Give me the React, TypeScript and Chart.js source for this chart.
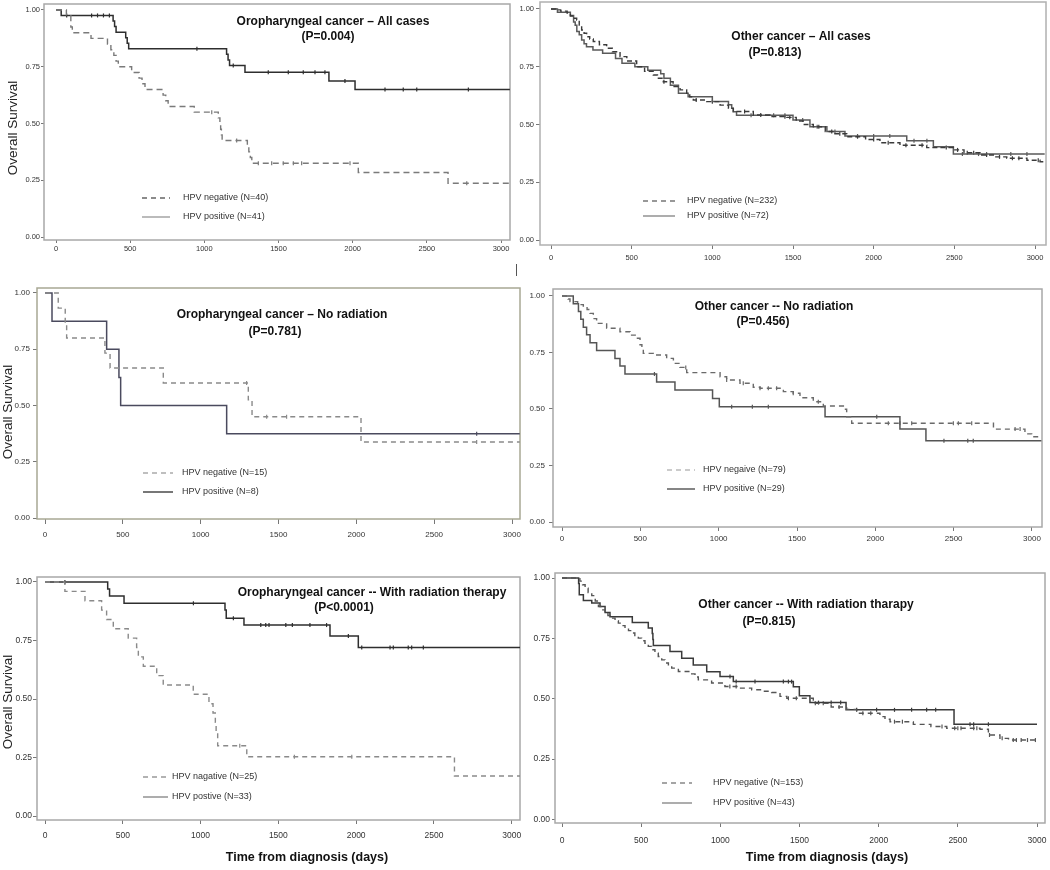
import React, { useEffect, useRef } from "react";
import { Chart, registerables } from "chart.js";

Chart.register(...registerables);

type Pt = [number, number];

// ---------- shared axis ticks ----------
const xTicks = [0, 500, 1000, 1500, 2000, 2500, 3000];
const yTicks = [0, 0.25, 0.5, 0.75, 1];

// ---------- texts ----------
const panelTitles = [
  "Oropharyngeal cancer – All cases",
  "Other cancer – All cases",
  "Oropharyngeal cancer – No radiation",
  "Other cancer -- No radiation",
  "Oropharyngeal cancer -- With radiation therapy",
  "Other cancer -- With radiation tharapy",
];
const pValues = ["(P=0.004)", "(P=0.813)", "(P=0.781)", "(P=0.456)", "(P<0.0001)", "(P=0.815)"];
const negLabels = [
  "HPV negative (N=40)",
  "HPV negative (N=232)",
  "HPV negative (N=15)",
  "HPV negaive (N=79)",
  "HPV nagative (N=25)",
  "HPV negative (N=153)",
];
const posLabels = [
  "HPV positive (N=41)",
  "HPV positive (N=72)",
  "HPV positive (N=8)",
  "HPV positive (N=29)",
  "HPV postive (N=33)",
  "HPV positive (N=43)",
];
const yAxisTitle = "Overall Survival";
const xAxisTitle = "Time from diagnosis (days)";

// ---------- survival data: [days, survival] ----------
// Oropharyngeal – all cases
const oroAllNeg: Pt[] = [
  [0, 1], [70, 0.975], [100, 0.925], [110, 0.9], [236, 0.875], [347, 0.85], [370, 0.825], [390, 0.8],
  [405, 0.775], [420, 0.75], [510, 0.725], [560, 0.7], [580, 0.675], [600, 0.65], [722, 0.625],
  [740, 0.6], [756, 0.575], [932, 0.55], [1094, 0.525], [1105, 0.5], [1110, 0.475], [1115, 0.45],
  [1120, 0.425], [1290, 0.4], [1300, 0.375], [1310, 0.35], [1320, 0.325], [2038, 0.284], [2643, 0.237],
  [3060, 0.237],
];
const oroAllPos: Pt[] = [
  [0, 1], [35, 0.976], [385, 0.951], [395, 0.927], [405, 0.902], [470, 0.878], [480, 0.854], [490, 0.829],
  [1150, 0.805], [1160, 0.78], [1170, 0.755], [1274, 0.726], [1840, 0.687], [2016, 0.65], [3060, 0.65],
];
const oroAllNegCens = [1050, 1218, 1364, 1454, 1532, 1600, 1656, 1982, 2769];
const oroAllPosCens = [72, 240, 280, 320, 360, 950, 1195, 1431, 1566, 1667, 1746, 1813, 1948, 2218, 2341, 2432, 2780];

// Other cancer – all cases
const othAllNeg: Pt[] = [
  [0, 1], [30, 0.996], [60, 0.991], [100, 0.983], [120, 0.97], [140, 0.96], [159, 0.952], [175, 0.93],
  [190, 0.909], [205, 0.895], [221, 0.88], [240, 0.87], [262, 0.859], [300, 0.845], [345, 0.83],
  [380, 0.815], [428, 0.794], [470, 0.775], [531, 0.75], [580, 0.73], [634, 0.714], [660, 0.7],
  [696, 0.685], [757, 0.664], [800, 0.65], [841, 0.635], [860, 0.62], [882, 0.606], [965, 0.599],
  [1048, 0.584], [1100, 0.57], [1130, 0.556], [1254, 0.541], [1357, 0.534], [1461, 0.531], [1520, 0.515],
  [1570, 0.5], [1626, 0.49], [1700, 0.47], [1760, 0.46], [1833, 0.447], [1950, 0.435], [2039, 0.421],
  [2163, 0.41], [2329, 0.4], [2494, 0.39], [2560, 0.378], [2659, 0.368], [2750, 0.36], [2825, 0.354],
  [2950, 0.345], [3031, 0.339], [3060, 0.339],
];
const othAllPos: Pt[] = [
  [0, 1], [40, 0.986], [120, 0.972], [140, 0.944], [150, 0.93], [160, 0.903], [175, 0.889], [190, 0.866],
  [205, 0.85], [220, 0.837], [260, 0.823], [320, 0.808], [400, 0.786], [440, 0.765], [520, 0.75],
  [600, 0.735], [680, 0.72], [700, 0.7], [740, 0.67], [790, 0.635], [850, 0.62], [1000, 0.6],
  [1100, 0.585], [1120, 0.57], [1130, 0.555], [1150, 0.54], [1500, 0.52], [1605, 0.49], [1710, 0.47],
  [1822, 0.45], [2205, 0.43], [2370, 0.404], [2494, 0.372], [3060, 0.372],
];
const othAllNegCens = [
  700, 900, 1000, 1200, 1300, 1450, 1480, 1660, 1740, 1790, 1900, 2000, 2090, 2200, 2300, 2450, 2520,
  2580, 2620, 2700, 2780, 2860, 2900, 3020,
];
const othAllPosCens = [1240, 1380, 1450, 1560, 1650, 1760, 1900, 2000, 2100, 2250, 2330, 2550, 2650, 2700, 2850, 2950];

// Oropharyngeal – no radiation
const oroNoRadNeg: Pt[] = [
  [0, 1], [85, 0.933], [130, 0.867], [139, 0.8], [385, 0.733], [418, 0.667], [760, 0.6], [1306, 0.525],
  [1330, 0.45], [2030, 0.3375], [3050, 0.3375],
];
const oroNoRadPos: Pt[] = [
  [0, 1], [45, 0.875], [396, 0.75], [475, 0.625], [486, 0.5], [1167, 0.375], [3050, 0.375],
];
const oroNoRadNegCens = [1295, 1424, 1552, 2773];
const oroNoRadPosCens = [2773];

// Other cancer – no radiation
const othNoRadNeg: Pt[] = [
  [0, 1], [39, 0.987], [51, 0.975], [100, 0.962], [136, 0.956], [160, 0.94], [179, 0.923], [200, 0.9],
  [221, 0.879], [285, 0.857], [370, 0.842], [434, 0.827], [477, 0.813], [498, 0.784], [510, 0.765],
  [519, 0.746], [583, 0.739], [668, 0.724], [711, 0.702], [753, 0.684], [796, 0.661], [1009, 0.643],
  [1051, 0.628], [1136, 0.614], [1221, 0.596], [1264, 0.592], [1413, 0.577], [1476, 0.57], [1519, 0.55],
  [1604, 0.532], [1668, 0.513], [1796, 0.499], [1817, 0.466], [1849, 0.437], [2754, 0.411], [2955, 0.39],
  [2998, 0.377], [3060, 0.377],
];
const othNoRadPos: Pt[] = [
  [0, 1], [72, 0.966], [105, 0.931], [120, 0.897], [136, 0.862], [157, 0.828], [179, 0.793], [221, 0.759],
  [338, 0.724], [370, 0.69], [402, 0.655], [604, 0.62], [721, 0.584], [961, 0.547], [1004, 0.51],
  [1679, 0.466], [2157, 0.411], [2323, 0.36], [3060, 0.36],
];
const othNoRadNegCens = [790, 1051, 1157, 1264, 1317, 1370, 1476, 1636, 2083, 2157, 2232, 2498, 2530, 2615, 2892, 2924];
const othNoRadPosCens = [590, 1083, 1215, 1317, 2009, 2438, 2590, 2625];

// Oropharyngeal – with radiation therapy
const oroRadNeg: Pt[] = [
  [0, 1], [128, 0.96], [257, 0.92], [364, 0.88], [396, 0.84], [439, 0.8], [535, 0.76], [589, 0.72],
  [600, 0.68], [632, 0.64], [718, 0.6], [760, 0.56], [953, 0.52], [1054, 0.48], [1080, 0.44],
  [1095, 0.4], [1100, 0.36], [1110, 0.3], [1297, 0.253], [2632, 0.171], [3055, 0.171],
];
const oroRadPos: Pt[] = [
  [0, 1], [403, 0.97], [415, 0.94], [508, 0.909], [1157, 0.88], [1165, 0.845], [1279, 0.816],
  [1832, 0.769], [2014, 0.72], [3055, 0.72],
];
const oroRadNegCens = [1252, 1603, 1972];
const oroRadPosCens = [128, 954, 1211, 1387, 1419, 1440, 1548, 1590, 1703, 1810, 1950, 2036, 2218, 2239, 2335, 2357, 2432];

// Other cancer – with radiation therapy
const othRadNeg: Pt[] = [
  [0, 1], [113, 0.987], [130, 0.972], [146, 0.958], [165, 0.94], [188, 0.927], [210, 0.905], [230, 0.882],
  [250, 0.868], [272, 0.855], [290, 0.845], [314, 0.834], [335, 0.823], [356, 0.813], [377, 0.803],
  [398, 0.793], [420, 0.782], [440, 0.772], [460, 0.762], [482, 0.751], [503, 0.74], [524, 0.73],
  [545, 0.717], [566, 0.703], [587, 0.689], [608, 0.675], [630, 0.661], [650, 0.648], [672, 0.637],
  [693, 0.627], [735, 0.613], [819, 0.603], [840, 0.59], [861, 0.578], [945, 0.565], [1029, 0.551],
  [1113, 0.544], [1198, 0.537], [1260, 0.531], [1324, 0.526], [1377, 0.51], [1420, 0.502], [1587, 0.481],
  [1700, 0.466], [1798, 0.456], [1861, 0.44], [2008, 0.426], [2040, 0.415], [2072, 0.405], [2219, 0.394],
  [2330, 0.385], [2430, 0.378], [2640, 0.374], [2693, 0.35], [2766, 0.336], [2820, 0.329], [3000, 0.329],
];
const othRadPos: Pt[] = [
  [0, 1], [105, 0.977], [109, 0.931], [135, 0.907], [188, 0.896], [240, 0.882], [272, 0.857], [303, 0.84],
  [444, 0.816], [545, 0.793], [570, 0.77], [574, 0.745], [577, 0.72], [682, 0.696], [756, 0.668],
  [829, 0.64], [914, 0.612], [998, 0.592], [1082, 0.571], [1461, 0.55], [1499, 0.512], [1566, 0.484],
  [1794, 0.454], [2476, 0.394], [3000, 0.394],
];
const othRadNegCens = [
  1060, 1100, 1430, 1480, 1600, 1650, 1750, 1900, 1950, 2100, 2150, 2400, 2480, 2500, 2520, 2600, 2620,
  2700, 2780, 2850, 2870, 2900, 2940, 2990,
];
const othRadPosCens = [1061, 1100, 1219, 1398, 1430, 1450, 1620, 1700, 1760, 1861, 1987, 2100, 2208, 2303, 2360, 2577, 2600, 2693];

const negCurves = [oroAllNeg, othAllNeg, oroNoRadNeg, othNoRadNeg, oroRadNeg, othRadNeg];
const posCurves = [oroAllPos, othAllPos, oroNoRadPos, othNoRadPos, oroRadPos, othRadPos];
const negCensors = [oroAllNegCens, othAllNegCens, oroNoRadNegCens, othNoRadNegCens, oroRadNegCens, othRadNegCens];
const posCensors = [oroAllPosCens, othAllPosCens, oroNoRadPosCens, othNoRadPosCens, oroRadPosCens, othRadPosCens];

// ---------- layout / style (page pixel coordinates) ----------
const FONT = '"Liberation Sans", Arial, Helvetica, sans-serif';

interface PanelLayout {
  canvas: [number, number, number, number];
  frame: [number, number, number, number];
  x0: number; x3000: number; y1: number; y0: number;
  tickFont: number; xTickLen: number; xTickPad: number; yTickLen: number; yTickPad: number;
  title: [number, number]; pval: [number, number];
  legend: { x1: number; x2: number; tx: number; y1: number; y2: number };
  yTitle?: [number, number]; xTitle?: [number, number];
  negColor: string; posColor: string; negDash: number[];
  legNeg: string; legPos: string; frameColor: string;
}

const panelLayouts: PanelLayout[] = [
  {
    canvas: [0, -20, 530, 282], frame: [44, 4, 510, 240], x0: 56, x3000: 501, y1: 10, y0: 237,
    tickFont: 7.5, xTickLen: 3, xTickPad: 1, yTickLen: 3, yTickPad: 1,
    title: [333, 22], pval: [328, 37], legend: { x1: 142, x2: 170, tx: 183, y1: 198, y2: 217 },
    yTitle: [13, 128], negColor: "#7a7a7a", posColor: "#2e2e2e", negDash: [6, 4],
    legNeg: "#666", legPos: "#aaa", frameColor: "#a8a8a8",
  },
  {
    canvas: [515, -20, 555, 290], frame: [540, 2, 1046, 245], x0: 551, x3000: 1035, y1: 9, y0: 240,
    tickFont: 7.5, xTickLen: 4, xTickPad: 4, yTickLen: 4, yTickPad: 2,
    title: [801, 37], pval: [775, 53], legend: { x1: 643, x2: 675, tx: 687, y1: 201, y2: 216 },
    negColor: "#3a3a3a", posColor: "#5a5a5a", negDash: [5, 3],
    legNeg: "#777", legPos: "#999", frameColor: "#b0b0b0",
  },
  {
    canvas: [0, 268, 540, 277], frame: [37, 288, 520, 519], x0: 45, x3000: 512, y1: 293, y0: 518,
    tickFont: 8, xTickLen: 5, xTickPad: 6, yTickLen: 4, yTickPad: 3,
    title: [282, 315], pval: [275, 332], legend: { x1: 143, x2: 173, tx: 182, y1: 473, y2: 492 },
    yTitle: [8, 412], negColor: "#8a8a8a", posColor: "#4a4a5e", negDash: [5, 4],
    legNeg: "#aaa", legPos: "#555", frameColor: "#a8a894",
  },
  {
    canvas: [525, 269, 545, 276], frame: [553, 289, 1042, 527], x0: 562, x3000: 1032, y1: 296, y0: 522,
    tickFont: 8, xTickLen: 4, xTickPad: 3, yTickLen: 4, yTickPad: 4,
    title: [774, 307], pval: [763, 322], legend: { x1: 667, x2: 695, tx: 703, y1: 470, y2: 489 },
    negColor: "#6a6a6a", posColor: "#555555", negDash: [5, 4],
    legNeg: "#bbb", legPos: "#666", frameColor: "#a8a8a8",
  },
  {
    canvas: [0, 557, 540, 313], frame: [37, 577, 520, 820], x0: 45, x3000: 511.7, y1: 582, y0: 816,
    tickFont: 8.5, xTickLen: 4, xTickPad: 7, yTickLen: 4, yTickPad: 1,
    title: [372, 593], pval: [344, 608], legend: { x1: 143, x2: 168, tx: 172, y1: 777, y2: 797 },
    yTitle: [8, 702], xTitle: [307, 858], negColor: "#8a8a8a", posColor: "#2e2e2e", negDash: [5, 4],
    legNeg: "#999", legPos: "#999", frameColor: "#a8a8a8",
  },
  {
    canvas: [525, 553, 545, 317], frame: [555, 573, 1045, 823], x0: 562, x3000: 1037, y1: 578, y0: 819.5,
    tickFont: 8.5, xTickLen: 4, xTickPad: 9, yTickLen: 3, yTickPad: 2,
    title: [806, 605], pval: [769, 622], legend: { x1: 662, x2: 692, tx: 713, y1: 783, y2: 803 },
    xTitle: [827, 858], negColor: "#555555", posColor: "#3a3a3a", negDash: [5, 4],
    legNeg: "#888", legPos: "#999", frameColor: "#a8a8a8",
  },
];

function stepValue(curve: Pt[], t: number): number {
  let s = curve[0][1];
  for (const [tt, v] of curve) {
    if (tt <= t) s = v;
    else break;
  }
  return s;
}

function KMPanel({ idx }: { idx: number }) {
  const ref = useRef<HTMLCanvasElement>(null);
  const L = panelLayouts[idx];
  const [cx, cy, cw, ch] = L.canvas;

  useEffect(() => {
    const canvas = ref.current;
    if (!canvas) return;
    const [fl, ft, fr, fb] = L.frame;
    const yUnit = L.y0 - L.y1;
    const yMax = 1 + (L.y1 - ft) / yUnit;
    const yMin = -(fb - L.y0) / yUnit;
    const xPer = (L.x3000 - L.x0) / 3000;
    const xMin = -(L.x0 - fl) / xPer;
    const xMax = 3000 + (fr - L.x3000) / xPer;

    const neg = negCurves[idx];
    const pos = posCurves[idx];

    const annot = {
      id: "kmAnnot" + idx,
      beforeDatasetsDraw(chart: any) {
        const { ctx, chartArea: a } = chart;
        ctx.save();
        ctx.strokeStyle = L.frameColor;
        ctx.lineWidth = 1.5;
        ctx.strokeRect(a.left, a.top, a.right - a.left, a.bottom - a.top);
        ctx.restore();
      },
      afterDraw(chart: any) {
        const ctx: CanvasRenderingContext2D = chart.ctx;
        ctx.save();
        ctx.translate(-cx, -cy);
        ctx.textBaseline = "middle";
        ctx.textAlign = "center";
        ctx.fillStyle = "#111";
        ctx.font = `bold 12px ${FONT}`;
        ctx.fillText(panelTitles[idx], L.title[0], L.title[1]);
        ctx.fillText(pValues[idx], L.pval[0], L.pval[1]);

        const lg = L.legend;
        ctx.strokeStyle = L.legNeg;
        ctx.lineWidth = 1.3;
        ctx.setLineDash([5, 4]);
        ctx.beginPath();
        ctx.moveTo(lg.x1, lg.y1);
        ctx.lineTo(lg.x2, lg.y1);
        ctx.stroke();
        ctx.setLineDash([]);
        ctx.strokeStyle = L.legPos;
        ctx.lineWidth = 1.6;
        ctx.beginPath();
        ctx.moveTo(lg.x1, lg.y2);
        ctx.lineTo(lg.x2, lg.y2);
        ctx.stroke();
        ctx.font = `9px ${FONT}`;
        ctx.fillStyle = "#333";
        ctx.textAlign = "left";
        ctx.fillText(negLabels[idx], lg.tx, lg.y1);
        ctx.fillText(posLabels[idx], lg.tx, lg.y2);

        if (L.yTitle) {
          ctx.save();
          ctx.translate(L.yTitle[0], L.yTitle[1]);
          ctx.rotate(-Math.PI / 2);
          ctx.font = `13.5px ${FONT}`;
          ctx.fillStyle = "#222";
          ctx.textAlign = "center";
          ctx.fillText(yAxisTitle, 0, 0);
          ctx.restore();
        }
        if (L.xTitle) {
          ctx.font = `bold 12.5px ${FONT}`;
          ctx.fillStyle = "#111";
          ctx.textAlign = "center";
          ctx.fillText(xAxisTitle, L.xTitle[0], L.xTitle[1]);
        }
        ctx.restore();
      },
    };

    const tickFont = { family: FONT, size: L.tickFont };

    const chart = new Chart(canvas, {
      type: "line",
      data: {
        datasets: [
          {
            data: neg.map(([x, y]) => ({ x, y })),
            stepped: "before",
            borderColor: L.negColor,
            borderWidth: 1.4,
            borderDash: L.negDash,
            pointRadius: 0,
            fill: false,
          },
          {
            data: pos.map(([x, y]) => ({ x, y })),
            stepped: "before",
            borderColor: L.posColor,
            borderWidth: 1.5,
            pointRadius: 0,
            fill: false,
          },
          {
            data: negCensors[idx].map((t) => ({ x: t, y: stepValue(neg, t) })),
            showLine: false,
            pointStyle: "line",
            pointRotation: 90,
            pointRadius: 2,
            pointBorderWidth: 1.2,
            pointBorderColor: L.negColor,
            borderColor: L.negColor,
          },
          {
            data: posCensors[idx].map((t) => ({ x: t, y: stepValue(pos, t) })),
            showLine: false,
            pointStyle: "line",
            pointRotation: 90,
            pointRadius: 2,
            pointBorderWidth: 1.2,
            pointBorderColor: L.posColor,
            borderColor: L.posColor,
          },
        ] as any,
      },
      options: {
        responsive: false,
        animation: false,
        events: [],
        layout: { padding: { left: 0, top: ft - cy, right: cx + cw - fr, bottom: 0 } },
        plugins: { legend: { display: false }, tooltip: { enabled: false }, title: { display: false } },
        scales: {
          x: {
            type: "linear",
            position: "bottom",
            min: xMin,
            max: xMax,
            afterBuildTicks: (s: any) => {
              s.ticks = xTicks.map((v) => ({ value: v }));
            },
            afterFit: (s: any) => {
              s.height = cy + ch - fb;
            },
            ticks: {
              autoSkip: false,
              maxRotation: 0,
              font: tickFont,
              color: "#333",
              padding: L.xTickPad,
              callback: (v: any) => String(v),
            },
            grid: { display: true, drawOnChartArea: false, drawTicks: true, tickLength: L.xTickLen, color: "#777" },
            border: { display: false },
          },
          y: {
            type: "linear",
            position: "left",
            min: yMin,
            max: yMax,
            afterBuildTicks: (s: any) => {
              s.ticks = yTicks.map((v) => ({ value: v }));
            },
            afterFit: (s: any) => {
              s.width = fl - cx;
            },
            ticks: {
              autoSkip: false,
              font: tickFont,
              color: "#333",
              padding: L.yTickPad,
              callback: (v: any) => Number(v).toFixed(2),
            },
            grid: { display: true, drawOnChartArea: false, drawTicks: true, tickLength: L.yTickLen, color: "#777" },
            border: { display: false },
          },
        },
      } as any,
      plugins: [annot],
    });
    return () => chart.destroy();
  }, [idx]);

  return (
    <canvas
      ref={ref}
      width={cw}
      height={ch}
      style={{ position: "absolute", left: cx, top: cy, width: cw, height: ch }}
    />
  );
}

export default function App() {
  useEffect(() => {
    document.body.style.margin = "0";
  }, []);
  return (
    <div
      style={{
        position: "absolute",
        left: 0,
        top: 0,
        width: 1050,
        height: 870,
        overflow: "hidden",
        background: "#ffffff",
      }}
    >
      {panelLayouts.map((_, i) => (
        <KMPanel key={i} idx={i} />
      ))}
      <div style={{ position: "absolute", left: 516, top: 264, width: 1, height: 12, background: "#555" }} />
    </div>
  );
}
